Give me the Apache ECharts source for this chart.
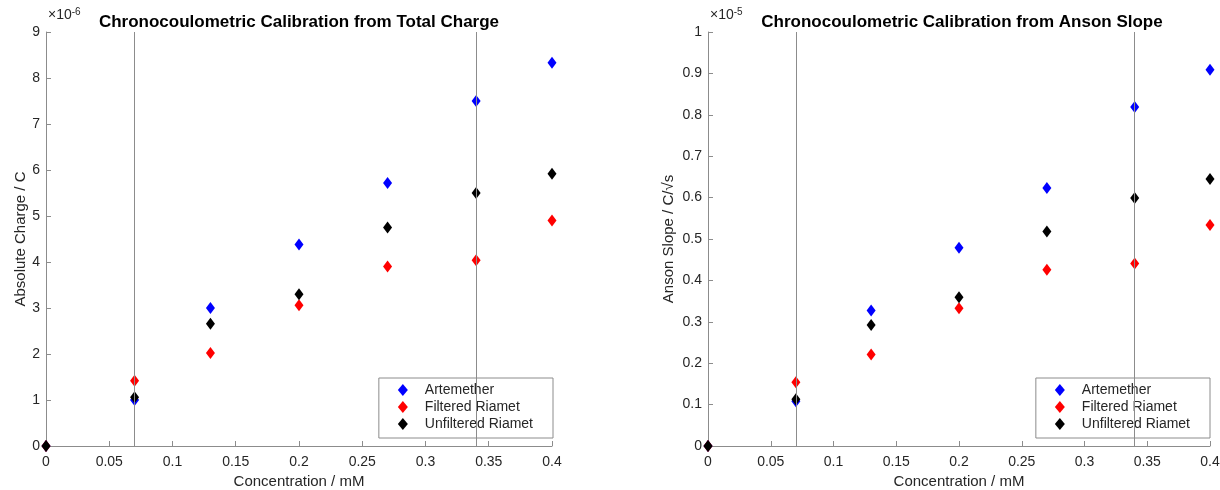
<!DOCTYPE html>
<html>
<head>
<meta charset="utf-8">
<script src="https://cdn.jsdelivr.net/npm/echarts@6/dist/echarts.min.js"></script>
<style>
  html, body { margin: 0; padding: 0; background: #fff; }
  #main { width: 1220px; height: 490px; }
</style>
</head>
<body>
<div id="main"></div>
<script>
  // concentrations (mM)
  const conc = [0, 0.07, 0.13, 0.2, 0.27, 0.34, 0.4];

  // total charge, x1e-6 C
  const chargeArtemether = [0, 1.0, 3.0, 4.38, 5.72, 7.5, 8.33];
  const chargeFiltered = [0, 1.42, 2.02, 3.06, 3.9, 4.04, 4.9];
  const chargeUnfiltered = [0, 1.06, 2.66, 3.3, 4.75, 5.5, 5.92];

  // anson slope, x1e-5 C/sqrt(s)
  const ansonArtemether = [0, 0.108, 0.327, 0.479, 0.623, 0.819, 0.909];
  const ansonFiltered = [0, 0.154, 0.221, 0.333, 0.426, 0.441, 0.534];
  const ansonUnfiltered = [0, 0.113, 0.292, 0.359, 0.518, 0.599, 0.645];

  const vlines = [0.07, 0.34];
  const seriesNames = ['Artemether', 'Filtered Riamet', 'Unfiltered Riamet'];
  const colors = ['#0000ff', '#ff0000', '#000000'];

  const FONT = 'Liberation Sans, Arial, Helvetica, sans-serif';
  const axisGray = '#8c8c8c';
  const textCol = '#262626';

  function pairs(ys) {
    return conc.map((x, i) => [x, ys[i]]);
  }

  function xAxisCfg(idx) {
    return {
      type: 'value', gridIndex: idx, min: 0, max: 0.4, interval: 0.05,
      name: 'Concentration / mM', nameLocation: 'middle', nameGap: 28,
      nameTextStyle: { fontFamily: FONT, fontSize: 15, color: textCol },
      axisLine: { show: true, lineStyle: { color: axisGray, width: 1 } },
      axisTick: { show: true, inside: true, length: 5, lineStyle: { color: axisGray } },
      axisLabel: { fontFamily: FONT, fontSize: 14, color: textCol, margin: 9,
        formatter: v => String(+v.toFixed(2)) },
      splitLine: { show: false }
    };
  }

  function yAxisCfg(idx, max, step, name, gap) {
    return {
      type: 'value', gridIndex: idx, min: 0, max: max, interval: step,
      name: name, nameLocation: 'middle', nameGap: gap,
      nameTextStyle: { fontFamily: FONT, fontSize: 15, color: textCol },
      axisLine: { show: true, lineStyle: { color: axisGray, width: 1 } },
      axisTick: { show: true, inside: true, length: 5, lineStyle: { color: axisGray } },
      axisLabel: { fontFamily: FONT, fontSize: 14, color: textCol, margin: 6,
        formatter: v => String(+v.toFixed(2)) },
      splitLine: { show: false }
    };
  }

  function scatter(name, data, color, idx) {
    return {
      name: name, type: 'scatter', xAxisIndex: idx, yAxisIndex: idx,
      data: pairs(data), symbol: 'diamond', symbolSize: [9, 12],
      itemStyle: { color: color, opacity: 1 }, z: 3
    };
  }

  function vlineSeries(idx) {
    return {
      type: 'scatter', xAxisIndex: idx, yAxisIndex: idx, data: [], z: 1,
      silent: true,
      markLine: {
        symbol: 'none', silent: true, animation: false,
        label: { show: false },
        lineStyle: { color: '#8c8c8c', type: 'solid', width: 1 },
        data: vlines.map(v => ({ xAxis: v }))
      }
    };
  }

  function legendCfg(right) {
    return {
      data: seriesNames, orient: 'vertical', right: right, bottom: 52,
      padding: [5, 20, 7, 19], itemGap: 3,
      itemWidth: 10, itemHeight: 12, icon: 'diamond',
      backgroundColor: '#fff', borderColor: '#8c8c8c', borderWidth: 1,
      itemStyle: { opacity: 1 },
      textStyle: { fontFamily: FONT, fontSize: 14, color: textCol, padding: [0, 0, 0, 12], lineHeight: 14 },
      selectedMode: false
    };
  }

  function expLabel(x, exp) {
    return {
      type: 'text', left: x, top: 7,
      style: { text: '{b|\u00d710}{s|' + exp + '}', fill: textCol,
        rich: { b: { fontFamily: FONT, fontSize: 14, color: textCol },
                s: { fontFamily: FONT, fontSize: 10, color: textCol, verticalAlign: 'top', padding: [0, 0, 7, 0] } } }
    };
  }

  const chart = echarts.init(document.getElementById('main'));
  chart.setOption({
    animation: false,
    backgroundColor: '#fff',
    title: [
      { text: 'Chronocoulometric Calibration from Total Charge', left: 294, top: 9,
        textAlign: 'center',
        textStyle: { fontFamily: FONT, fontSize: 17, fontWeight: 'bold', color: '#000' } },
      { text: 'Chronocoulometric Calibration from Anson Slope', left: 957, top: 9,
        textAlign: 'center',
        textStyle: { fontFamily: FONT, fontSize: 17, fontWeight: 'bold', color: '#000' } }
    ],
    grid: [
      { left: 46, right: 668, top: 32, bottom: 44, outerBoundsMode: 'none' },
      { left: 708, right: 10, top: 32, bottom: 44, outerBoundsMode: 'none' }
    ],
    xAxis: [xAxisCfg(0), xAxisCfg(1)],
    yAxis: [
      yAxisCfg(0, 9, 1, 'Absolute Charge / C', 18),
      yAxisCfg(1, 1, 0.1, 'Anson Slope / C/\u221As', 32)
    ],
    legend: [legendCfg(667), legendCfg(10)],
    graphic: [expLabel(48, '-6'), expLabel(710, '-5')],
    series: [
      vlineSeries(0),
      scatter(seriesNames[0], chargeArtemether, colors[0], 0),
      scatter(seriesNames[1], chargeFiltered, colors[1], 0),
      scatter(seriesNames[2], chargeUnfiltered, colors[2], 0),
      vlineSeries(1),
      scatter(seriesNames[0], ansonArtemether, colors[0], 1),
      scatter(seriesNames[1], ansonFiltered, colors[1], 1),
      scatter(seriesNames[2], ansonUnfiltered, colors[2], 1)
    ]
  });
</script>
</body>
</html>
